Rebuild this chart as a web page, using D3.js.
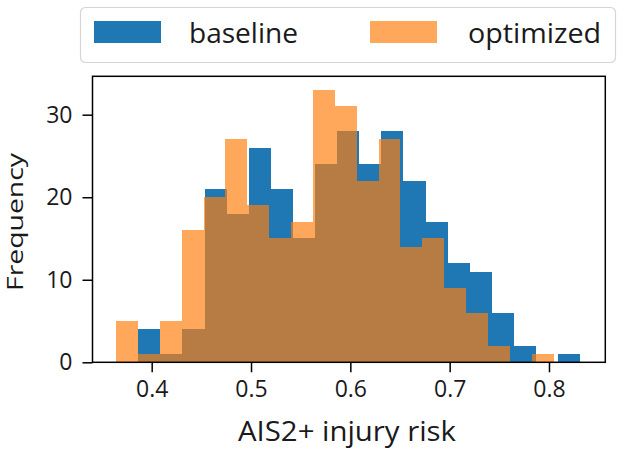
<!DOCTYPE html>
<html>
<head>
<meta charset="UTF-8">
<title>AIS2+ injury risk histogram</title>
<script src="https://d3js.org/d3.v7.min.js"></script>
<style>
  body { margin: 0; background: #fff; }
  text { font-family: "Open Sans", "Noto Sans", sans-serif; fill: #1a1a1a; }
</style>
</head>
<body>
<svg class="chart"></svg>
<script>
// histogram data (20 bins each)
const seriesNames = ["baseline", "optimized"];
const baselineRange = [0.3865, 0.8315];
const optimizedRange = [0.3641, 0.8047];
const baselineCounts = [4, 1, 4, 21, 18, 26, 21, 15, 24, 28, 24, 28, 22, 17, 12, 11, 6, 2, 0, 1];
const optimizedCounts = [5, 1, 5, 16, 20, 27, 19, 15, 17, 33, 31, 22, 27, 14, 15, 9, 6, 2, 0, 1];
const xTicks = [0.4, 0.5, 0.6, 0.7, 0.8];
const yTicks = [0, 10, 20, 30];

const width = 624, height = 453;
const plot = {left: 92.5, right: 605.3, top: 76.3, bottom: 362.3};

const svg = d3.select(".chart")
    .attr("width", width)
    .attr("height", height);

const x_scale = d3.scaleLinear()
    .domain([0.3404, 0.8567])
    .range([plot.left, plot.right]);

const y_scale = d3.scaleLinear()
    .domain([0, 34.65])
    .range([plot.bottom, plot.top]);

// turn a range + counts into bins
function makeBins(range, counts) {
    const w = (range[1] - range[0]) / counts.length;
    return counts.map((c, i) => ({x0: range[0] + i * w, x1: range[0] + (i + 1) * w, n: c}));
}

const series = [
    {name: seriesNames[0], bins: makeBins(baselineRange, baselineCounts), color: "#1f77b4", opacity: 1},
    {name: seriesNames[1], bins: makeBins(optimizedRange, optimizedCounts), color: "#ff7f0e", opacity: 0.68}
];

// bars
series.forEach(s => {
    svg.append("g")
        .selectAll("rect")
        .data(s.bins.filter(d => d.n > 0))
        .enter().append("rect")
        .attr("x", d => x_scale(d.x0))
        .attr("width", d => x_scale(d.x1) - x_scale(d.x0))
        .attr("y", d => y_scale(d.n))
        .attr("height", d => y_scale(0) - y_scale(d.n))
        .style("fill", s.color)
        .style("fill-opacity", s.opacity)
        .attr("shape-rendering", "crispEdges");
});

// x axis
const xAxis = svg.append("g")
    .attr("transform", `translate(0, ${plot.bottom})`)
    .call(d3.axisBottom(x_scale).tickValues(xTicks).tickFormat(d3.format(".1f"))
        .tickSize(10).tickPadding(8));

// y axis
const yAxis = svg.append("g")
    .attr("transform", `translate(${plot.left}, 0)`)
    .call(d3.axisLeft(y_scale).tickValues(yTicks).tickSize(10).tickPadding(10));

[xAxis, yAxis].forEach(a => {
    a.select(".domain").remove();
    a.selectAll(".tick line").attr("stroke", "#000").attr("stroke-width", 1.5);
    a.selectAll(".tick text").style("font-size", "23px").attr("fill", "#1a1a1a");
});

// frame around the plot
svg.append("rect")
    .attr("x", plot.left)
    .attr("y", plot.top)
    .attr("width", plot.right - plot.left)
    .attr("height", plot.bottom - plot.top)
    .style("fill", "none")
    .style("stroke", "#000")
    .style("stroke-width", 1.5);

// axis labels
svg.append("text")
    .attr("text-anchor", "middle")
    .attr("x", 347)
    .attr("y", 441)
    .attr("textLength", 218)
    .attr("lengthAdjust", "spacingAndGlyphs")
    .style("font-size", "27px")
    .text("AIS2+ injury risk");

svg.append("text")
    .attr("text-anchor", "middle")
    .attr("transform", `translate(23, 222)rotate(-90)`)
    .attr("textLength", 138)
    .attr("lengthAdjust", "spacingAndGlyphs")
    .style("font-size", "22px")
    .text("Frequency");

// legend
svg.append("rect")
    .attr("x", 80.5)
    .attr("y", 7.5)
    .attr("width", 535)
    .attr("height", 55)
    .attr("rx", 5)
    .style("fill", "#fff")
    .style("stroke", "#d5d5d5")
    .style("stroke-width", 1.2);

const legendX = [94, 370];
const legendTextX = [189, 468];
const legendTextLen = [109, 133];
series.forEach((s, i) => {
    svg.append("rect")
        .attr("x", legendX[i])
        .attr("y", 21)
        .attr("width", 67)
        .attr("height", 22)
        .style("fill", s.color)
        .style("fill-opacity", s.opacity);
    svg.append("text")
        .attr("x", legendTextX[i])
        .attr("y", 43)
        .attr("textLength", legendTextLen[i])
        .attr("lengthAdjust", "spacingAndGlyphs")
        .style("font-size", "28px")
        .text(s.name);
});
</script>
</body>
</html>
